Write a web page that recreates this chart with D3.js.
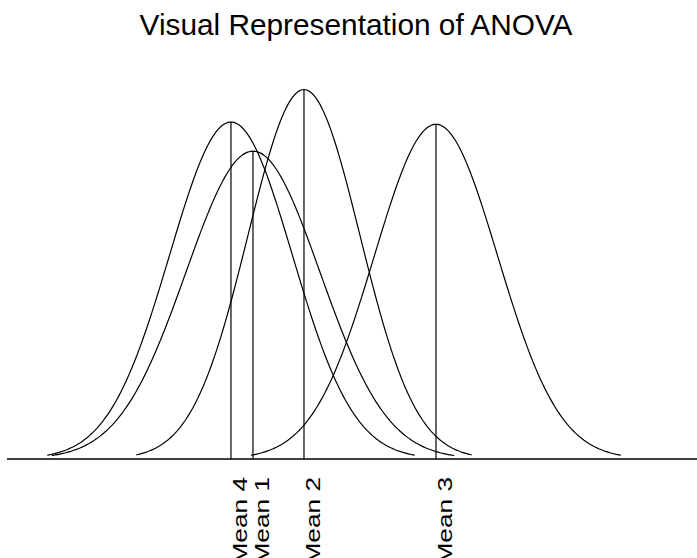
<!DOCTYPE html>
<html>
<head>
<meta charset="utf-8">
<script src="https://cdn.jsdelivr.net/npm/d3@7"></script>
<style>
  body { margin: 0; background: #fff; }
  text { font-family: "Liberation Sans", Arial, sans-serif; }
</style>
</head>
<body>
<div id="chart"></div>
<script>
// group names, means and standard deviations
const groups = ["Mean 1", "Mean 2", "Mean 3", "Mean 4"];
const means = [35.65, 43.04, 62.17, 32.46];
const sds = [9.72, 8.10, 8.94, 8.88];

const width = 697, height = 558;

const svg = d3.select("#chart")
    .append("svg")
    .attr("width", width)
    .attr("height", height);

// scales
const x = d3.scaleLinear()
    .domain([0, 100])
    .range([7, 697]);

const y = d3.scaleLinear()
    .domain([0, 0.05])
    .range([459, 84]);

function dnorm(v, m, s) {
    return Math.exp(-0.5 * ((v - m) / s) ** 2) / (s * Math.sqrt(2 * Math.PI));
}

const line = d3.line()
    .x(d => x(d[0]))
    .y(d => y(d[1]));

// title
svg.append("text")
    .attr("x", 356)
    .attr("y", 35)
    .attr("text-anchor", "middle")
    .attr("font-size", "29.8px")
    .attr("fill", "#000")
    .text("Visual Representation of ANOVA");

// baseline
svg.append("line")
    .attr("x1", x(0))
    .attr("x2", x(100))
    .attr("y1", y(0))
    .attr("y2", y(0))
    .attr("stroke", "#000")
    .attr("stroke-width", 1.3);

// the curves, mean +/- 3 sd
groups.forEach(function(g, i) {
    const m = means[i], s = sds[i];
    const pts = d3.range(0, 201).map(k => {
        const v = m - 3 * s + k * (6 * s / 200);
        return [v, dnorm(v, m, s)];
    });
    svg.append("path")
        .datum(pts)
        .attr("d", line)
        .attr("fill", "none")
        .attr("stroke", "#000")
        .attr("stroke-width", 1.2);

    // line from baseline up to peak
    svg.append("line")
        .attr("x1", x(m))
        .attr("x2", x(m))
        .attr("y1", y(0))
        .attr("y2", y(dnorm(m, m, s)))
        .attr("stroke", "#000")
        .attr("stroke-width", 1.2);

    // rotated label (glyphs are wide in the original)
    svg.append("text")
        .attr("transform", `translate(${x(m) + 16}, 477) rotate(-90) scale(1.25, 1)`)
        .attr("text-anchor", "end")
        .attr("font-size", "21px")
        .attr("fill", "#000")
        .text(g);
});
</script>
</body>
</html>
